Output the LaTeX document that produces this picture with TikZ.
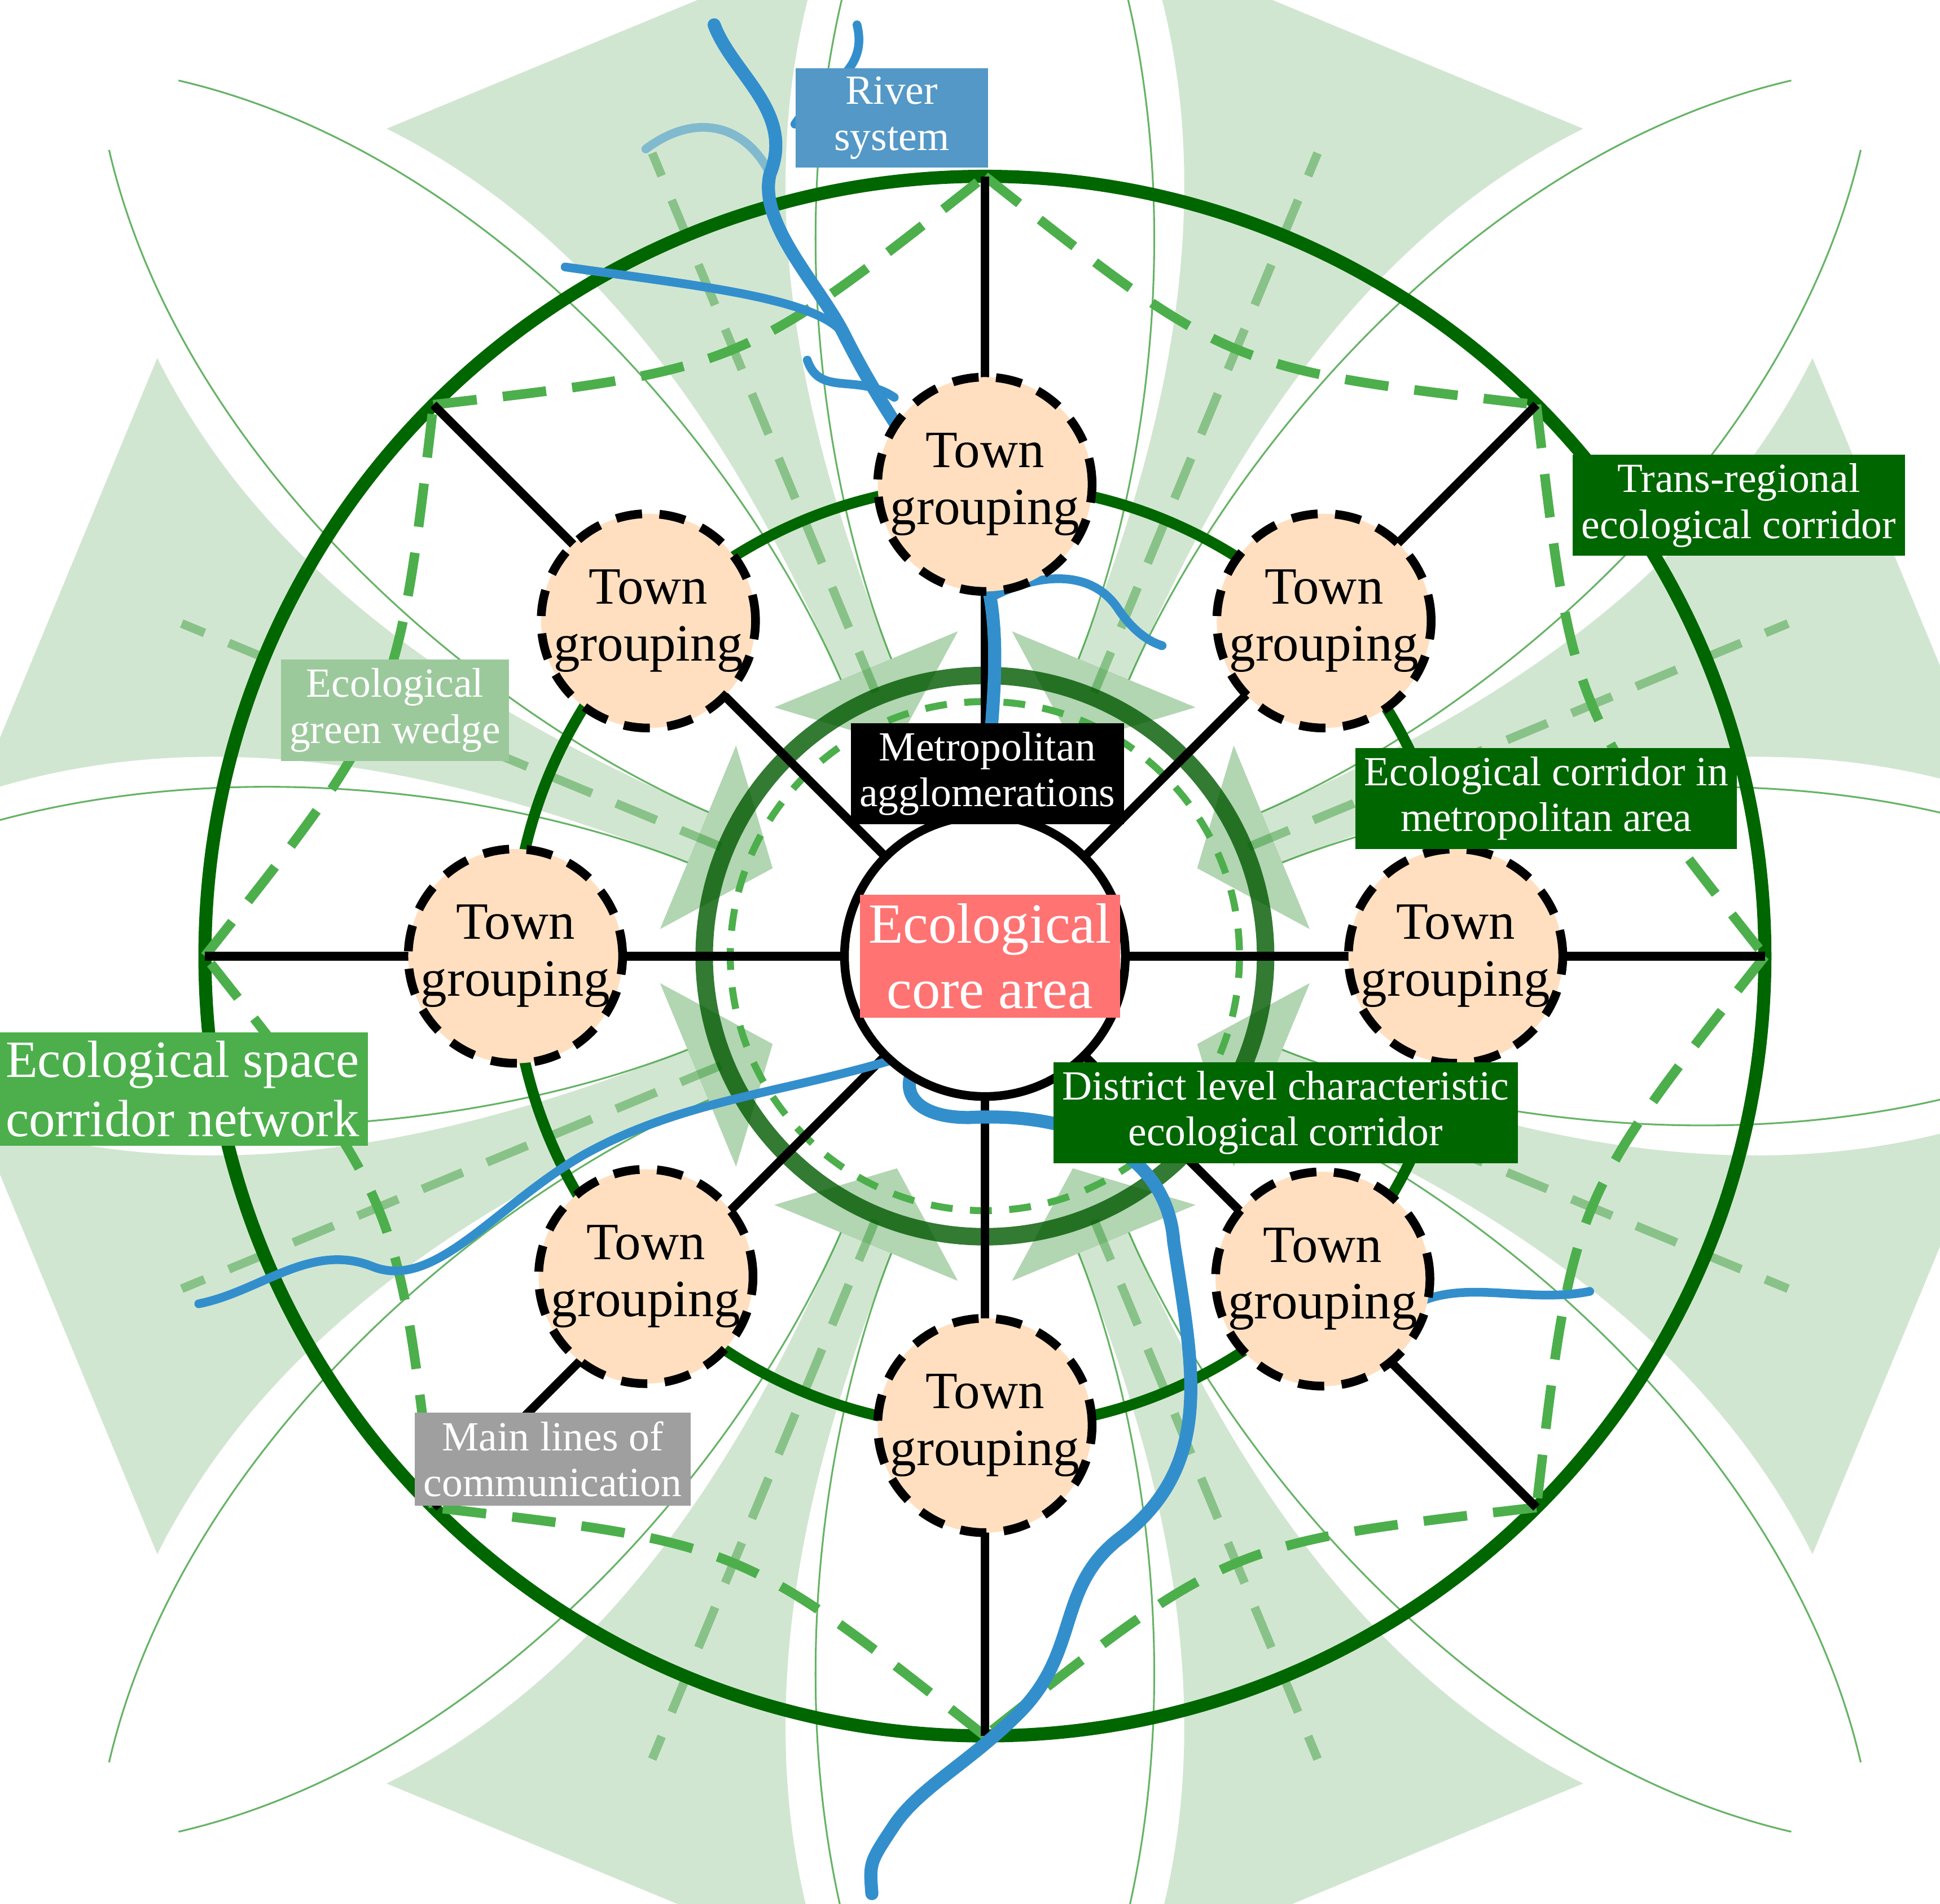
\documentclass[tikz,border=0pt]{standalone}
\usepackage{fontspec}
\setmainfont{Liberation Serif}
\usetikzlibrary{calc}
\begin{document}
\begin{tikzpicture}[x=0.01cm,y=-0.01cm,
  lab/.style={text=white,font=\fontsize{9.5}{10.5}\selectfont,align=center,inner sep=2pt,minimum width=0},
  town/.style={circle,draw=black,line width=2pt,dash pattern=on 6pt off 4pt,fill=orange!25!white,minimum size=1.68cm,font=\fontsize{12}{13}\selectfont,align=center,inner sep=0},
  river/.style={draw=blue!40!cyan!60!gray,line width=3pt,line cap=round,line join=round},
  dgreen/.style={draw=green!40!black},
  gdash/.style={draw=green!55!black!70!white,line width=2.2pt,dash pattern=on 10pt off 6pt}]
\useasboundingbox (0,0) rectangle (1562,1533);
\coordinate (c) at (793,770);
% wedges
\foreach \a in {22.5,67.5,...,337.5}{
\begin{scope}[shift={(793,770)},rotate=\a]
 \fill[green!45!black,opacity=0.18] (250,-22) .. controls (450,-25) and (650,-60) .. (800,-190) -- (800,190) .. controls (650,60) and (450,25) .. (250,22) -- cycle;
 \draw[green!50!black,opacity=0.6,thin] (250,-22) .. controls (450,-25) and (750,-120) .. (900,-330);
 \draw[green!50!black,opacity=0.6,thin] (250,22) .. controls (450,25) and (750,120) .. (900,330);
 \fill[green!45!black,opacity=0.3] (185,0) -- (250,-80) -- (250,80) -- cycle;
 \draw[green!50!black,opacity=0.35,line width=2pt,dash pattern=on 10pt off 6pt] (230,0) -- (700,0);
\end{scope}}
% circles
\draw[dgreen,line width=3pt] (c) circle[radius=628];
\draw[dgreen,line width=2.5pt] (c) circle[radius=380];
\draw[green!35!black,opacity=0.8,line width=4pt] (c) circle[radius=226];
\draw[green!55!black!70!white,line width=1.6pt,dash pattern=on 5pt off 4pt] (c) circle[radius=205];
% outer dashed curves
\foreach \a in {0,45,...,315}{
 \draw[gdash] ($(c)+(\a:628)$) .. controls ($(c)+(\a+22.5:512)$) .. ($(c)+(\a+45:628)$);}
% spokes
\foreach \a in {0,45,...,315}{
 \draw[black,line width=2pt] ($(c)+(\a:113)$) -- ($(c)+(\a:628)$);}
% river
\draw[river] (575,20) .. controls (590,60) and (640,90) .. (620,140) .. controls (610,180) and (660,230) .. (680,270) .. controls (700,310) and (720,340) .. (740,370) .. controls (790,430) and (805,470) .. (800,560) .. controls (795,650) and (780,690) .. (830,725) .. controls (860,760) and (800,820) .. (760,840) .. controls (720,860) and (720,900) .. (780,900) .. controls (870,895) and (940,930) .. (945,1000) .. controls (960,1100) and (980,1180) .. (900,1240) .. controls (850,1280) and (870,1330) .. (820,1380) .. controls (780,1420) and (740,1440) .. (720,1470) .. controls (700,1500) .. (702,1525);
\draw[river,line width=2pt] (760,840) .. controls (650,880) and (560,880) .. (470,930) .. controls (400,970) and (350,1040) .. (300,1020) .. controls (250,1000) and (210,1040) .. (160,1050);
\draw[river,line width=2pt] (1140,1050) .. controls (1180,1030) and (1230,1050) .. (1280,1040);
\draw[river,line width=2pt,opacity=0.5] (620,140) .. controls (600,100) and (560,90) .. (520,120);
\draw[river,line width=2pt] (680,270) .. controls (660,240) and (560,230) .. (455,215);
\draw[river,line width=2pt] (720,320) .. controls (690,300) and (660,320) .. (650,290);
\draw[river,line width=2pt] (800,480) .. controls (840,460) and (880,460) .. (900,490) .. controls (920,520) and (940,520) .. (935,520);
\draw[river,line width=2pt] (640,100) .. controls (660,70) and (700,60) .. (690,20);
% core
\node[circle,draw=black,line width=2pt,fill=white,minimum size=2.26cm] (core) at (c) {};
\node[fill=red!55!white,text=white,font=\fontsize{13}{15}\selectfont,align=center,inner sep=2pt] (corel) at (797,770) {Ecological\\core area};
% towns
\node[town] (t1) at (793,390) {Town\\grouping};
\node[town] (t2) at (1066,500) {Town\\grouping};
\node[town] (t3) at (1172,770) {Town\\grouping};
\node[town] (t4) at (1065,1030) {Town\\grouping};
\node[town] (t5) at (793,1148) {Town\\grouping};
\node[town] (t6) at (520,1028) {Town\\grouping};
\node[town] (t7) at (415,770) {Town\\grouping};
\node[town] (t8) at (522,500) {Town\\grouping};
% labels
\node[lab,fill=blue!40!cyan!50!gray!90,minimum width=1.55cm] (l1) at (718,95) {River\\system};
\node[lab,fill=green!40!black] (l2) at (1400,407) {Trans-regional\\ecological corridor};
\node[lab,fill=green!30!gray!60!white] (l3) at (318,572) {Ecological\\green wedge};
\node[lab,fill=black] (l4) at (795,623) {Metropolitan\\agglomerations};
\node[lab,fill=green!40!black] (l5) at (1245,643) {Ecological corridor in\\metropolitan area};
\node[lab,fill=green!55!black!70!white,font=\fontsize{12}{13.5}\selectfont] (l6) at (147,877) {Ecological space\\corridor network};
\node[lab,fill=green!40!black] (l7) at (1035,896) {District level characteristic\\ecological corridor};
\node[lab,fill=gray!75] (l8) at (445,1175) {Main lines of\\communication};
\end{tikzpicture}
\end{document}
